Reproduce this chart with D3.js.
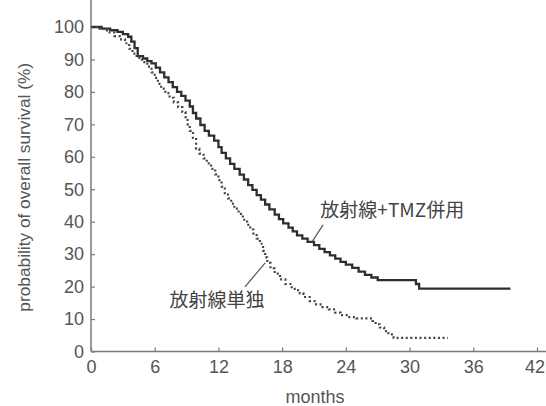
<!DOCTYPE html>
<html>
<head>
<meta charset="utf-8">
<script src="https://cdn.jsdelivr.net/npm/d3@7"></script>
<style>
  body { margin: 0; background: #fff; }
  svg { display: block; }
</style>
</head>
<body>
<script>
// Datos (meses, supervivencia %)
const tmzMonths = [0, 1.0, 1.8, 2.5, 3.0, 3.5, 3.8, 4.1, 4.4, 4.9, 5.3, 5.7, 6.1, 6.5, 6.9, 7.3, 7.7, 8.1, 8.5, 8.9,
  9.3, 9.6, 9.9, 10.3, 10.7, 11.1, 11.6, 12.0, 12.3, 12.7, 13.1, 13.5, 14.0, 14.4, 14.8, 15.2, 15.6, 16.0, 16.4, 16.8,
  17.3, 17.7, 18.1, 18.6, 19.0, 19.4, 19.9, 20.4, 21.0, 21.5, 22.0, 22.5, 23.0, 23.5, 24.0, 24.6, 25.2, 25.8, 26.4, 27.0,
  30.6, 30.9, 39.5];
const tmzSurv = [100, 99.5, 99, 98.5, 97.8, 97, 95.5, 93.5, 91, 90.3, 89.5, 88.8, 87.5, 86, 84.5, 83, 81.5, 80, 78.8, 77.3,
  75.5, 73.5, 71.8, 69.8, 68, 66.5, 65, 63, 61.2, 59.5, 57.8, 56.3, 54.5, 53, 51.3, 49.8, 48.2, 46.8, 45.3, 43.8,
  42.2, 40.8, 39.5, 38.2, 37, 35.8, 34.8, 33.8, 32.8, 31.6, 30.6, 29.6, 28.6, 27.6, 26.8, 25.8, 24.6, 23.6, 22.8, 22,
  20.8, 19.4, 19.4];

const rtMonths = [0, 0.8, 1.5, 2.2, 2.7, 3.2, 3.6, 3.9, 4.3, 4.8, 5.3, 5.7, 6.0, 6.3, 6.6, 7.0, 7.4, 7.8, 8.2, 8.6,
  8.9, 9.1, 9.3, 9.6, 9.9, 10.2, 10.6, 10.9, 11.3, 11.7, 12.0, 12.3, 12.6, 12.9, 13.2, 13.5, 13.9, 14.3, 14.7, 15.0,
  15.3, 15.6, 15.9, 16.2, 16.4, 16.6, 16.9, 17.3, 17.8, 18.3, 18.9, 19.5, 20.0, 20.6, 21.2, 21.8, 22.4, 23.0, 23.5, 24.2,
  25.0, 26.5, 26.8, 27.2, 27.6, 28.0, 28.5, 33.6];
const rtSurv = [100, 99.5, 98.3, 97.2, 96.2, 95, 93.3, 91.8, 90.5, 89.2, 87.8, 86, 84.3, 82.5, 81, 79.6, 78.2, 76.8, 75.3, 73.8,
  72.2, 70, 68, 65.8, 62.5, 61, 59.5, 58, 56.3, 54.6, 52.8, 50.8, 48.8, 47.2, 45.6, 44, 42.4, 40.6, 39, 37.6,
  36.3, 34.8, 33.2, 31, 29, 27.3, 25.6, 24, 22.2, 20.8, 19.3, 18, 16.8, 15.5, 14.5, 13.7, 13, 12, 11.2, 10.6,
  10.2, 9.4, 8.4, 7.4, 6.3, 5.3, 4.2, 4.2];

const xTicks = [0, 6, 12, 18, 24, 30, 36, 42];
const yTicks = [0, 10, 20, 30, 40, 50, 60, 70, 80, 90, 100];

// Etiquetas: texto, posicion (meses, %) y linea guia
const labels = [
  { text: "放射線+TMZ併用", m: 21.6, v: 41.3, lead: [[20.8, 33.7], [21.85, 39.0]] },
  { text: "放射線単独", m: 7.4, v: 13.6, lead: [[16.4, 27.3], [14.5, 19.9]] }
];

const width = 546;
const height = 406;
const margin = { left: 91, right: 9, top: 27, bottom: 54.5 };

const svg = d3.select("body")
  .append("svg")
  .attr("width", width)
  .attr("height", height);

const xScale = d3.scaleLinear()
  .domain([0, 42])
  .range([margin.left, width - margin.right]);

const yScale = d3.scaleLinear()
  .domain([0, 100])
  .range([height - margin.bottom, margin.top]);

const axisColor = "#7a7a7a";
const textColor = "#555";
const font = "'Liberation Sans', Arial, sans-serif";

// Marco superior
svg.append("line")
  .attr("x1", margin.left).attr("x2", width)
  .attr("y1", yScale(110.6)).attr("y2", yScale(110.6))
  .attr("stroke", "#8a8a8a").attr("stroke-width", 1.5);

// Eje X
const ejeX = d3.axisBottom(xScale)
  .tickValues(xTicks)
  .tickSizeInner(-4)
  .tickSizeOuter(0)
  .tickPadding(9);

const gx = svg.append("g")
  .attr("transform", "translate(0," + yScale(0) + ")")
  .call(ejeX);
gx.select(".domain").remove();
gx.append("line")
  .attr("x1", margin.left).attr("x2", width)
  .attr("stroke", axisColor).attr("stroke-width", 1.5);
gx.selectAll(".tick line").attr("stroke", axisColor).attr("stroke-width", 1.2);
gx.selectAll("text")
  .attr("fill", textColor)
  .style("font-family", font)
  .style("font-size", "18px");
// el ultimo numero toca el borde: lo movemos un poco
gx.selectAll(".tick text").filter(d => d === 42).attr("dx", -2.5);

// Eje Y
const ejeY = d3.axisLeft(yScale)
  .tickValues(yTicks)
  .tickSizeInner(-4)
  .tickSizeOuter(0)
  .tickPadding(7);

const gy = svg.append("g")
  .attr("transform", "translate(" + margin.left + ",0)")
  .call(ejeY);
gy.select(".domain").remove();
gy.append("line")
  .attr("y1", yScale(110.6)).attr("y2", yScale(0))
  .attr("stroke", axisColor).attr("stroke-width", 1.5);
gy.selectAll(".tick line").attr("stroke", axisColor).attr("stroke-width", 1.2);
gy.selectAll("text")
  .attr("fill", textColor)
  .style("font-family", font)
  .style("font-size", "18px");

// Titulos de los ejes
svg.append("text")
  .attr("x", (xScale(0) + xScale(42)) / 2 + 1)
  .attr("y", 403)
  .attr("text-anchor", "middle")
  .attr("fill", textColor)
  .style("font-family", font)
  .style("font-size", "18px")
  .text("months");

svg.append("text")
  .attr("transform", "translate(30," + yScale(50.6) + ") rotate(-90)")
  .attr("text-anchor", "middle")
  .attr("fill", textColor)
  .style("font-family", font)
  .style("font-size", "17.3px")
  .text("probability of overall survival (%)");

// Curvas de supervivencia
const linea = d3.line()
  .x(d => xScale(d[0]))
  .y(d => yScale(d[1]))
  .curve(d3.curveStepAfter);

svg.append("path")
  .datum(d3.zip(tmzMonths, tmzSurv))
  .attr("d", linea)
  .attr("fill", "none")
  .attr("stroke", "#2e2e2e")
  .attr("stroke-width", 2.3);

svg.append("path")
  .datum(d3.zip(rtMonths, rtSurv))
  .attr("d", linea)
  .attr("fill", "none")
  .attr("stroke", "#444")
  .attr("stroke-width", 2.2)
  .attr("stroke-dasharray", "2 2.6");

// Etiquetas con linea guia
labels.forEach(function (l) {
  svg.append("line")
    .attr("x1", xScale(l.lead[0][0])).attr("y1", yScale(l.lead[0][1]))
    .attr("x2", xScale(l.lead[1][0])).attr("y2", yScale(l.lead[1][1]))
    .attr("stroke", "#555").attr("stroke-width", 1.2);
  svg.append("text")
    .attr("x", xScale(l.m))
    .attr("y", yScale(l.v))
    .attr("fill", "#444")
    .style("font-family", "'Noto Sans CJK JP', sans-serif")
    .style("font-size", "19px")
    .text(l.text);
});
</script>
</body>
</html>
